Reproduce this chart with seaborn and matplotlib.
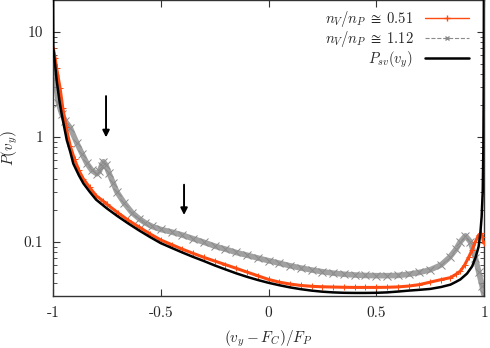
import matplotlib
matplotlib.use("Agg")
import matplotlib.pyplot as plt
import numpy as np
import seaborn as sns
from matplotlib.lines import Line2D
from matplotlib.ticker import LogLocator, NullFormatter, FixedLocator

# values
black_x = [-0.9999, -0.9986, -0.99, -0.983, -0.97, -0.96, -0.95, -0.936,
           -0.92, -0.906, -0.88, -0.859, -0.83, -0.8, -0.75, -0.7, -0.65,
           -0.6, -0.55, -0.5, -0.45, -0.4, -0.35, -0.3, -0.25, -0.2, -0.15,
           -0.1, -0.05, 0.0, 0.05, 0.1, 0.15, 0.2, 0.25, 0.3, 0.35, 0.4,
           0.45, 0.5, 0.55, 0.6, 0.65, 0.7, 0.75, 0.8, 0.844, 0.87, 0.89,
           0.921, 0.945, 0.96, 0.975, 0.983, 0.989, 0.994, 0.997, 0.9985,
           0.9995]
black_y = [30, 7.1, 4.8, 3.44, 2.2, 1.66, 1.3, 0.93,
           0.72, 0.557, 0.43, 0.36, 0.3, 0.252, 0.208, 0.175, 0.149,
           0.128, 0.111, 0.097, 0.0875, 0.079, 0.0717, 0.0655, 0.0595,
           0.0545, 0.050, 0.0463, 0.0432, 0.0406, 0.0385, 0.0367, 0.0353,
           0.0342, 0.0334, 0.0329, 0.0326, 0.0325, 0.0325, 0.0326, 0.0329,
           0.0335, 0.0342, 0.0348, 0.0355, 0.037, 0.039, 0.0415, 0.0437,
           0.0497, 0.0583, 0.070, 0.090, 0.121, 0.174, 0.3, 0.8, 3, 30]

orange_x = [-0.999, -0.99, -0.983, -0.967, -0.955, -0.94, -0.92, -0.9,
            -0.88, -0.86, -0.83, -0.8, -0.77, -0.75, -0.7, -0.65, -0.6,
            -0.55, -0.5, -0.45, -0.4, -0.35, -0.3, -0.25, -0.2, -0.15, -0.1,
            -0.05, 0.0, 0.05, 0.1, 0.15, 0.2, 0.25, 0.3, 0.35, 0.4, 0.45,
            0.5, 0.55, 0.6, 0.65, 0.7, 0.75, 0.8, 0.844, 0.87, 0.89, 0.91,
            0.93, 0.945, 0.96, 0.975, 0.986, 0.993, 0.999]
orange_y = [7.1, 5.6, 4.5, 2.9, 1.9, 1.25, 0.82, 0.61,
            0.48, 0.4, 0.33, 0.275, 0.247, 0.228, 0.19, 0.16, 0.138,
            0.119, 0.104, 0.094, 0.085, 0.0775, 0.071, 0.0655, 0.0605,
            0.0558, 0.0514, 0.0474, 0.0437, 0.0412, 0.0395, 0.0383, 0.0376,
            0.0372, 0.037, 0.0368, 0.0367, 0.0367, 0.0367, 0.0368, 0.0371,
            0.0378, 0.039, 0.0412, 0.0435, 0.0455, 0.049, 0.0525, 0.060,
            0.072, 0.084, 0.100, 0.116, 0.12, 0.11, 0.097]

gray_x = [-0.999, -0.99, -0.975, -0.96, -0.944, -0.92, -0.89, -0.865,
          -0.843, -0.82, -0.797, -0.785, -0.775, -0.766, -0.755, -0.74,
          -0.72, -0.704, -0.67, -0.634, -0.6, -0.573, -0.54, -0.5, -0.45,
          -0.4, -0.35, -0.3, -0.25, -0.2, -0.15, -0.1, -0.05, 0.0, 0.05,
          0.1, 0.15, 0.2, 0.25, 0.3, 0.35, 0.4, 0.45, 0.5, 0.55, 0.6, 0.65,
          0.7, 0.75, 0.8, 0.84, 0.87, 0.89, 0.914, 0.937, 0.96, 0.975,
          0.991, 0.999]
gray_y = [4.4, 3.6, 2.1, 1.67, 1.42, 1.22, 0.88, 0.69,
          0.56, 0.48, 0.445, 0.47, 0.53, 0.58, 0.54, 0.45,
          0.36, 0.30, 0.235, 0.19, 0.166, 0.152, 0.14, 0.131, 0.124,
          0.116, 0.107, 0.099, 0.091, 0.085, 0.079, 0.0745, 0.070, 0.066,
          0.0625, 0.059, 0.0562, 0.0538, 0.0518, 0.0502, 0.049, 0.0482,
          0.0477, 0.0475, 0.0475, 0.0477, 0.049, 0.051, 0.054, 0.060, 0.071,
          0.085, 0.100, 0.114, 0.100, 0.070, 0.052, 0.038, 0.0315]

labels = [r"$n_V/n_P\;\cong\;0.51$", r"$n_V/n_P\;\cong\;1.12$",
          r"$P_{sv}(v_y)$"]
xticks = [-1, -0.5, 0, 0.5, 1]
xtick_labels = ["-1", "-0.5", "0", "0.5", "1"]
yticks = [0.1, 1, 10]
ytick_labels = ["0.1", "1", "10"]

ORANGE = "#ff4a12"
GRAY = "#8a8a8a"
AXIS = "#333333"

sns.set_style("ticks")
plt.rcParams["font.family"] = ["cmr10", "DejaVu Serif"]
plt.rcParams["mathtext.fontset"] = "cm"
plt.rcParams["axes.formatter.use_mathtext"] = True

fig = plt.figure(figsize=(4.9, 3.48), dpi=100)
ax = fig.add_axes([0.1082, 0.1486, 0.8796, 0.85])

# the dense markers of the original form a band
sns.lineplot(x=gray_x, y=gray_y, ax=ax, color=GRAY, lw=4.0, alpha=0.8,
             estimator=None, sort=False, zorder=1)
sns.lineplot(x=gray_x, y=gray_y, ax=ax, color=GRAY, lw=0, marker="x",
             markersize=5.5, markeredgewidth=0.7, mec=GRAY,
             estimator=None, sort=False, zorder=2)
sns.lineplot(x=orange_x, y=orange_y, ax=ax, color=ORANGE, lw=2.2,
             estimator=None, sort=False, zorder=3)
sns.lineplot(x=orange_x, y=orange_y, ax=ax, color=ORANGE, lw=0, marker="+",
             markersize=4.5, markeredgewidth=0.7, mec=ORANGE,
             estimator=None, sort=False, zorder=4)
sns.lineplot(x=black_x, y=black_y, ax=ax, color="black", lw=1.8,
             estimator=None, sort=False, zorder=5)

ax.set_yscale("log")
ax.set_xlim(-1, 1)
ax.set_ylim(0.0302, 20)

ax.xaxis.set_major_locator(FixedLocator(xticks))
ax.set_xticklabels(xtick_labels)
ax.yaxis.set_major_locator(FixedLocator(yticks))
ax.set_yticklabels(ytick_labels)
ax.yaxis.set_minor_locator(LogLocator(base=10, subs=np.arange(2, 10)))
ax.yaxis.set_minor_formatter(NullFormatter())

ax.tick_params(which="both", direction="in", top=True, right=True,
               labelsize=11, color=AXIS)
ax.tick_params(which="major", length=5, width=0.8)
ax.tick_params(which="minor", length=3, width=0.6)
ax.tick_params(axis="x", pad=7)
ax.tick_params(axis="y", pad=7)
for side in ax.spines.values():
    side.set_linewidth(1.0)
    side.set_color(AXIS)

ax.set_xlabel(r"$(v_y - F_C)/F_P$", fontsize=11, labelpad=6)
ax.set_ylabel(r"$P(v_y)$", fontsize=11, labelpad=3)

# arrows marking the features
ax.annotate("", xy=(-0.754, 0.99), xytext=(-0.754, 2.45),
            arrowprops=dict(arrowstyle="-|>", color="black", lw=1.4,
                            mutation_scale=10, shrinkA=0, shrinkB=0))
ax.annotate("", xy=(-0.392, 0.18), xytext=(-0.392, 0.35),
            arrowprops=dict(arrowstyle="-|>", color="black", lw=1.4,
                            mutation_scale=10, shrinkA=0, shrinkB=0))

handles = [
    Line2D([0, 0.5, 1], [0, 0, 0], color=ORANGE, lw=1.0, marker="+",
           markersize=4, markevery=[1]),
    Line2D([0, 0.5, 1], [0, 0, 0], color=GRAY, lw=0.8, ls="--", marker="x",
           markersize=3.5, markevery=[1]),
    Line2D([], [], color="black", lw=1.8),
]
ax.legend(handles, labels, loc="upper right", frameon=False, fontsize=10.5,
          markerfirst=False, handlelength=3.0, handletextpad=0.8,
          labelspacing=0.0, borderaxespad=0.2, bbox_to_anchor=(0.985, 1.0))

fig.savefig("out.png", dpi=100)
